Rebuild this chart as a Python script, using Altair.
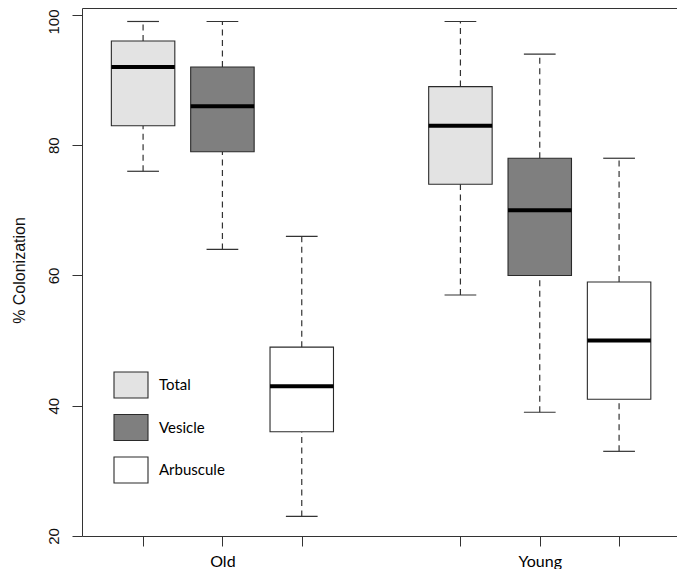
import altair as alt
import pandas as pd

# ---- data ----
groups = ["Old", "Young"]
group_centers = [2, 6]
types = ["Total", "Vesicle", "Arbuscule"]
box_group = ["Old", "Old", "Old", "Young", "Young", "Young"]
box_type = ["Total", "Vesicle", "Arbuscule", "Total", "Vesicle", "Arbuscule"]
positions = [1, 2, 3, 5, 6, 7]
lower = [76, 64, 23, 57, 39, 33]
q1 = [83, 79, 36, 74, 60, 41]
median = [92, 86, 43, 83, 70, 50]
q3 = [96, 92, 49, 89, 78, 59]
upper = [99, 99, 66, 99, 94, 78]
y_ticks = [20, 40, 60, 80, 100]

fills = ["#e3e3e3", "#7f7f7f", "#ffffff"]

df = pd.DataFrame({
    "group": box_group,
    "type": box_type,
    "pos": positions,
    "lower": lower,
    "q1": q1,
    "median": median,
    "q3": q3,
    "upper": upper,
})

label_expr = " : ".join(
    f"datum.value == {c} ? '{g}'" for c, g in zip(group_centers, groups)
) + " : ''"

xscale = alt.Scale(domain=[0.23, 7.73], nice=False, zero=False)
yscale = alt.Scale(domain=[20, 101.07], nice=False, zero=False)

xaxis = alt.Axis(
    values=positions, labelExpr=label_expr, title=None, grid=False,
    domain=False, tickSize=10, tickColor="#333333", tickWidth=1,
    labelFont="Lato", labelFontSize=16, labelColor="#000000",
    labelPadding=7, labelAngle=0,
)
yaxis = alt.Axis(
    values=y_ticks, title="% Colonization", grid=False, domain=False,
    tickSize=10, tickColor="#333333", tickWidth=1,
    labelFont="Liberation Sans", labelFontSize=15, labelColor="#111111",
    labelAngle=270, labelAlign="center", labelBaseline="alphabetic",
    labelPadding=14,
    labelOffset={"expr": f"datum.value == {max(y_ticks)} ? 6.5 : 0"},
    titleFont="Liberation Sans", titleFontSize=16, titleFontWeight="normal",
    titleColor="#111111", titleX=-58, titleY=262, titleBaseline="alphabetic",
)

base = alt.Chart(df).transform_calculate(
    box_lo="datum.pos - 0.4",
    box_hi="datum.pos + 0.4",
    cap_lo="datum.pos - 0.2",
    cap_hi="datum.pos + 0.2",
)

whisk_style = dict(color="#333333", strokeWidth=1.2, strokeDash=[6, 4.5])

upper_whisker = base.mark_rule(**whisk_style).encode(
    x=alt.X("pos:Q", scale=xscale, axis=xaxis),
    y=alt.Y("q3:Q", scale=yscale, axis=yaxis),
    y2="upper:Q",
)
lower_whisker = base.mark_rule(**whisk_style).encode(
    x=alt.X("pos:Q", scale=xscale),
    y=alt.Y("lower:Q", scale=yscale),
    y2="q1:Q",
)
upper_cap = base.mark_rule(color="#333333", strokeWidth=1.2).encode(
    x=alt.X("cap_lo:Q", scale=xscale),
    x2="cap_hi:Q",
    y=alt.Y("upper:Q", scale=yscale),
)
lower_cap = base.mark_rule(color="#333333", strokeWidth=1.2).encode(
    x=alt.X("cap_lo:Q", scale=xscale),
    x2="cap_hi:Q",
    y=alt.Y("lower:Q", scale=yscale),
)

rect_path = "M-1,-0.765L1,-0.765L1,0.765L-1,0.765Z"

boxes = base.mark_rect(stroke="#2a2a2a", strokeWidth=1.1).encode(
    x=alt.X("box_lo:Q", scale=xscale),
    x2="box_hi:Q",
    y=alt.Y("q1:Q", scale=yscale),
    y2="q3:Q",
    fill=alt.Fill(
        "type:N",
        scale=alt.Scale(domain=types, range=fills),
        sort=types,
        legend=alt.Legend(
            title=None, orient="none", legendX=31, legendY=359,
            direction="vertical", padding=0,
            symbolType=rect_path, symbolSize=1156,
            symbolStrokeColor="#2a2a2a", symbolStrokeWidth=1.1,
            symbolOpacity=1, rowPadding=8.5, labelOffset=10,
            labelFont="Lato", labelFontSize=15, labelColor="#000000",
        ),
    ),
)

medians = base.mark_rule(color="#000000", strokeWidth=4).encode(
    x=alt.X("box_lo:Q", scale=xscale),
    x2="box_hi:Q",
    y=alt.Y("median:Q", scale=yscale),
)

chart = alt.layer(
    upper_whisker, lower_whisker, upper_cap, lower_cap, boxes, medians
).properties(
    width=595,
    height=528,
    padding={"left": 74, "top": 0, "right": 0, "bottom": 33},
    autosize=alt.AutoSizeParams(type="none"),
    background="white",
).configure_view(
    stroke="#333333", strokeWidth=1
)

chart.save("out.html", embed_options={"renderer": "svg", "actions": False})
